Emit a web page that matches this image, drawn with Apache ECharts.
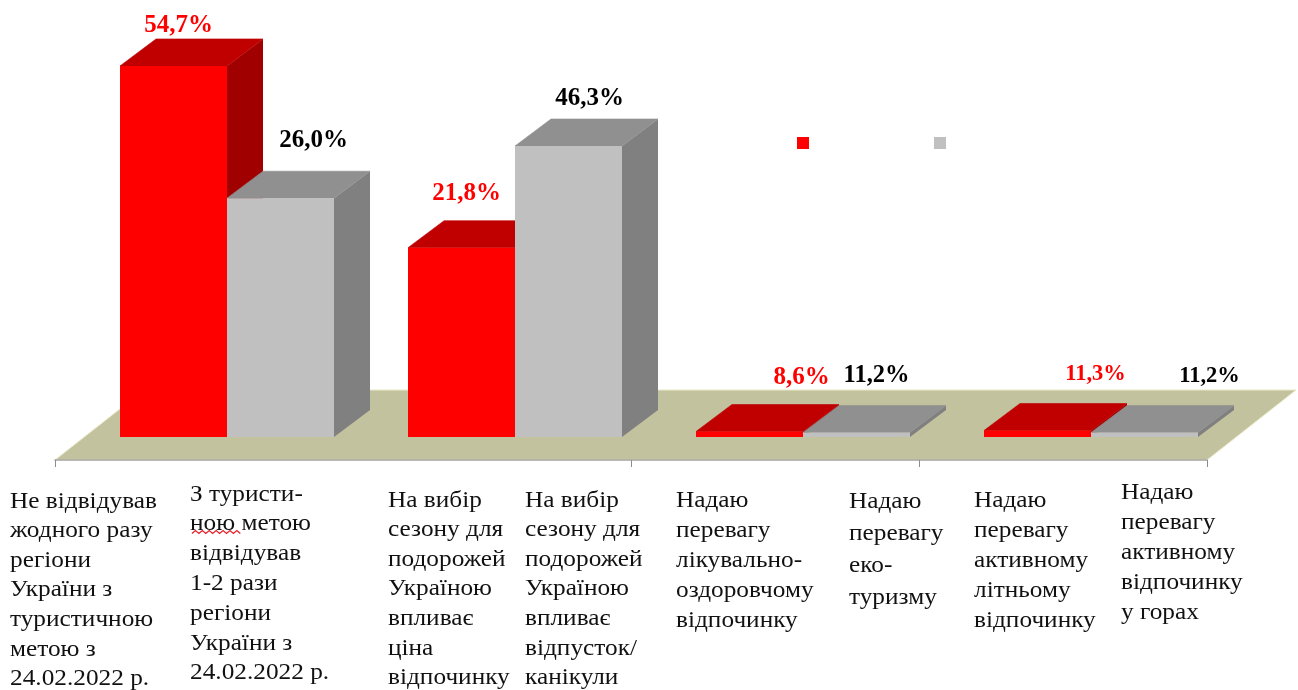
<!DOCTYPE html>
<html>
<head>
<meta charset="utf-8">
<style>
  html, body { margin: 0; padding: 0; background: #fff; }
  #chart { width: 1298px; height: 690px; }
</style>
<script src="https://cdn.jsdelivr.net/npm/echarts@6/dist/echarts.min.js"></script>
</head>
<body>
<div id="chart"></div>
<script>
// bar heights as drawn in the picture (they do not follow the printed percentages)
const redHeights = [54.7, 27.9, 0.8, 0.95]
const grayHeights = [35.2, 42.9, 0.65, 0.65]
const redLabels = ['54,7%', '21,8%', '8,6%', '11,3%']
const grayLabels = ['26,0%', '46,3%', '11,2%', '11,2%']
const categories = [
  'Не відвідував\nжодного разу\nрегіони\nУкраїни з\nтуристичною\nметою з\n24.02.2022 р.',
  'З туристи-\nною метою\nвідвідував\n1-2 рази\nрегіони\nУкраїни з\n24.02.2022 р.',
  'На вибір\nсезону для\nподорожей\nУкраїною\nвпливає\nціна\nвідпочинку',
  'На вибір\nсезону для\nподорожей\nУкраїною\nвпливає\nвідпусток/\nканікули',
  'Надаю\nперевагу\nлікувально-\nоздоровчому\nвідпочинку',
  'Надаю\nперевагу\nеко-\nтуризму',
  'Надаю\nперевагу\nактивному\nлітньому\nвідпочинку',
  'Надаю\nперевагу\nактивному\nвідпочинку\nу горах',
]

// layout only
const categoryBoxes = [
  [10, 501.5, 29.6], [190, 494.5, 29.8], [388, 500.5, 29.6], [525, 500.5, 29.6],
  [676, 500.5, 30], [849, 501.5, 32.2], [974, 500.5, 30], [1121, 492.5, 30.2],
]
const redLabelOffsets = [[5, -40, 25], [5, -54, 25], [52, -54, 25], [58, -56, 22.5]]
const grayLabelOffsets = [[33, -58, 25], [21, -47, 25], [20, -57, 24.5], [65, -56, 22.5]]

const FONT = '"Liberation Serif", "Times New Roman", serif'
const BAR_SHIFT = 28
const BAR_W = 107
const DEPTH_X = 36
const DEPTH_Y = 27
const FLOOR_X = 89
const FLOOR_Y = 70
const Y_MIN = -3.4

function floorItem(params, api) {
  const a = api.coord([0, Y_MIN])
  const b = api.coord([4, Y_MIN])
  return {
    type: 'polygon',
    shape: { points: [a, b, [b[0] + FLOOR_X, b[1] - FLOOR_Y], [a[0] + FLOOR_X, a[1] - FLOOR_Y]] },
    style: { fill: '#c2c29e', stroke: '#e9e9c6', lineWidth: 1 },
  }
}

function barItem(side, labels, offsets, colors) {
  return (params, api) => {
    const g = params.dataIndex
    const base = api.coord([g + 0.5, 0])
    const top = api.coord([g + 0.5, api.value(1)])
    const cx = base[0] + BAR_SHIFT + side * BAR_W / 2
    const l = cx - BAR_W / 2
    const r = cx + BAR_W / 2
    const off = offsets[g]
    return {
      type: 'group',
      children: [
        { type: 'polygon', shape: { points: [[r, base[1]], [r + DEPTH_X, base[1] - DEPTH_Y], [r + DEPTH_X, top[1] - DEPTH_Y], [r, top[1]]] }, style: { fill: colors[2] } },
        { type: 'polygon', shape: { points: [[l, top[1]], [r, top[1]], [r + DEPTH_X, top[1] - DEPTH_Y], [l + DEPTH_X, top[1] - DEPTH_Y]] }, style: { fill: colors[1], stroke: colors[1], lineWidth: 0.6 } },
        { type: 'rect', shape: { x: l, y: top[1], width: BAR_W, height: base[1] - top[1] }, style: { fill: colors[0] } },
        {
          type: 'text',
          x: cx + off[0],
          y: top[1] + off[1],
          style: { text: labels[g], fill: side < 0 ? '#ff0000' : '#000', font: `bold ${off[2]}px ${FONT}`, align: 'center', verticalAlign: 'middle' },
        },
      ],
    }
  }
}

function categoryText() {
  return categories.map((text, i) => {
    const box = categoryBoxes[i]
    return {
      type: 'text',
      x: box[0],
      y: box[1] - box[2] / 2,
      scaleX: 1.1,
      style: { text, fill: '#111', font: `23px ${FONT}`, lineHeight: box[2], align: 'left', verticalAlign: 'top' },
    }
  })
}

// spell-check underline below the second label
function squiggle() {
  const pts = []
  for (let i = 0; i <= 14; i++) pts.push([192 + i * 3.45, 532 + (i % 2 ? -1.4 : 1.4)])
  return { type: 'polyline', shape: { points: pts }, style: { stroke: '#e8202a', lineWidth: 1.3, fill: null } }
}

const chart = echarts.init(document.getElementById('chart'))
chart.setOption({
  animation: false,
  backgroundColor: '#fff',
  grid: { left: 55, right: 91, top: 30, bottom: 230 },
  xAxis: {
    type: 'value',
    min: 0,
    max: 4,
    interval: 1,
    z: 5,
    axisLine: { show: true, onZero: false, lineStyle: { color: '#a6a6a6', width: 1.5 } },
    axisTick: { show: true, length: 7, customValues: [0, 2, 3, 4], lineStyle: { color: '#8c8c8c', width: 1 } },
    axisLabel: { show: false },
    splitLine: { show: false },
  },
  yAxis: { type: 'value', min: Y_MIN, max: 60, show: false, splitLine: { show: false } },
  legend: {
    left: 797,
    top: 137,
    padding: 0,
    icon: 'rect',
    itemWidth: 12,
    itemHeight: 12,
    itemGap: 125,
    data: ['Ряд 1', 'Ряд 2'],
    formatter: () => '',
    selectedMode: false,
  },
  series: [
    { type: 'custom', name: 'Підлога', silent: true, clip: false, z: 1, renderItem: floorItem, data: [[0, 0]] },
    {
      type: 'custom',
      name: 'Ряд 1',
      clip: false,
      z: 2,
      itemStyle: { color: '#ff0000' },
      renderItem: barItem(-1, redLabels, redLabelOffsets, ['#ff0000', '#c00000', '#a00000']),
      encode: { x: 0, y: 1 },
      data: redHeights.map((h, i) => [i + 0.5, h]),
    },
    {
      type: 'custom',
      name: 'Ряд 2',
      clip: false,
      z: 3,
      itemStyle: { color: '#c0c0c0' },
      renderItem: barItem(1, grayLabels, grayLabelOffsets, ['#c0c0c0', '#909090', '#808080']),
      encode: { x: 0, y: 1 },
      data: grayHeights.map((h, i) => [i + 0.5, h]),
    },
  ],
  graphic: { elements: [...categoryText(), squiggle()] },
})
</script>
</body>
</html>
